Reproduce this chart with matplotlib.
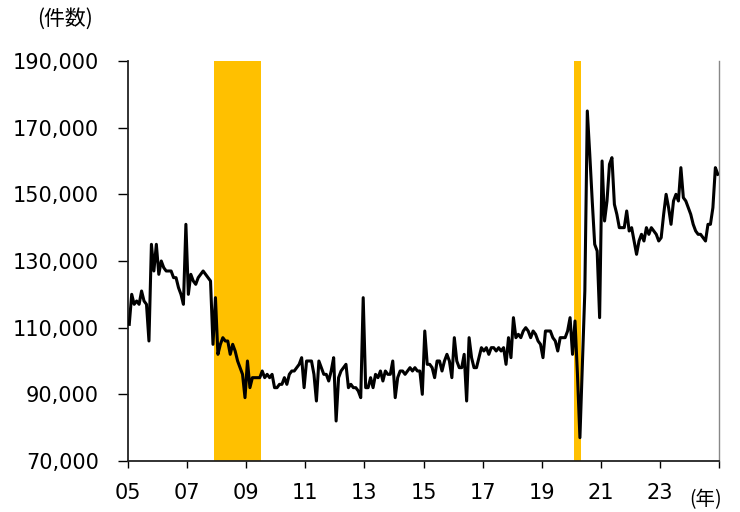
"""Monthly count series, 2005-2024, with recession bands."""

import matplotlib

matplotlib.use("Agg")
import matplotlib.pyplot as plt
from matplotlib.ticker import FuncFormatter

START_YEAR = 2005

# monthly values (thousands), Jan 2005 .. Dec 2024, one row per year
COUNTS_K = [
    111, 120, 117, 118, 117, 121, 118, 117, 106, 135, 127, 135,
    126, 130, 128, 127, 127, 127, 125, 125, 122, 120, 117, 141,
    120, 126, 124, 123, 125, 126, 127, 126, 125, 124, 105, 119,
    102, 105, 107, 106, 106, 102, 105, 103, 100, 98, 96, 89,
    100, 92, 95, 95, 95, 95, 97, 95, 96, 95, 96, 92,
    92, 93, 93, 95, 93, 96, 97, 97, 98, 99, 101, 92,
    100, 100, 100, 96, 88, 100, 98, 96, 96, 94, 97, 101,
    82, 95, 97, 98, 99, 92, 93, 92, 92, 91, 89, 119,
    92, 92, 95, 92, 96, 95, 97, 94, 97, 96, 96, 100,
    89, 95, 97, 97, 96, 97, 98, 97, 98, 97, 97, 90,
    109, 99, 99, 98, 95, 100, 100, 97, 100, 102, 100, 95,
    107, 100, 98, 98, 102, 88, 107, 101, 98, 98, 101, 104,
    103, 104, 102, 104, 104, 103, 104, 103, 104, 99, 107, 101,
    113, 107, 108, 107, 109, 110, 109, 107, 109, 108, 106, 105,
    101, 109, 109, 109, 107, 106, 103, 107, 107, 107, 109, 113,
    102, 112, 96, 77, 99, 121, 175, 162, 148, 135, 133, 113,
    160, 142, 148, 159, 161, 147, 144, 140, 140, 140, 145, 139,
    140, 136, 132, 136, 138, 136, 140, 138, 140, 139, 138, 136,
    137, 144, 150, 146, 141, 148, 150, 148, 158, 149, 148, 146,
    144, 141, 139, 138, 138, 137, 136, 141, 141, 146, 158, 156,
]

# recession bands: first month in, first month after
RECESSION_START = [(2007, 12), (2020, 2)]
RECESSION_END = [(2009, 7), (2020, 5)]

X_TICK_YEARS = list(range(2005, 2026, 2))
X_TICK_LABELS = ["05", "07", "09", "11", "13", "15", "17", "19", "21", "23", ""]
Y_TICKS = list(range(70000, 190001, 20000))

BAND_COLOR = "#FFC000"
CJK = ["Noto Sans CJK JP", "DejaVu Sans"]


def month_pos(year, month):
    return year + (month - 1) / 12


def plot():
    plt.rcParams["font.family"] = ["DejaVu Sans", "Noto Sans CJK JP"]
    fig = plt.figure(figsize=(7.4, 5.12), dpi=100)
    ax = fig.add_axes([0.173, 0.0996, 0.7987, 0.7813])

    xs = [START_YEAR + (i + 0.5) / 12 for i in range(len(COUNTS_K))]
    ys = [v * 1000 for v in COUNTS_K]

    for (y0, m0), (y1, m1) in zip(RECESSION_START, RECESSION_END):
        ax.axvspan(month_pos(y0, m0), month_pos(y1, m1), color=BAND_COLOR, lw=0, zorder=1)

    ax.plot(xs, ys, color="black", lw=2.2, solid_joinstyle="round", zorder=3)

    ax.set_xlim(2005, 2025)
    ax.set_ylim(70000, 190000)
    ax.set_xticks(X_TICK_YEARS)
    ax.set_xticklabels(X_TICK_LABELS)
    ax.set_yticks(Y_TICKS)
    ax.yaxis.set_major_formatter(FuncFormatter(lambda v, _: f"{int(v):,}"))

    ax.tick_params(axis="x", direction="out", length=5, width=1, pad=11, labelsize=15)
    ax.tick_params(axis="y", direction="out", length=7, width=1, pad=14, labelsize=15)

    for side in ("left", "bottom"):
        ax.spines[side].set_color("#222222")
        ax.spines[side].set_linewidth(1.3)
    ax.spines["top"].set_visible(False)
    ax.spines["right"].set_color("#888888")
    ax.spines["right"].set_linewidth(1.0)

    fig.text(0.05, 0.985, "(件数)", family=CJK, fontsize=15, ha="left", va="top")
    fig.text(0.932, 0.003, "(年)", family=CJK, fontsize=14, ha="left", va="bottom")

    fig.savefig("out.png", dpi=100)
    plt.close(fig)


def main():
    plot()


if __name__ == "__main__":
    main()
